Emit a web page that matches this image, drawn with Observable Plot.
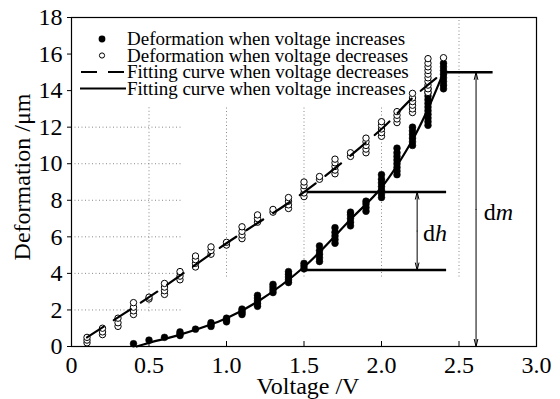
<!DOCTYPE html>
<html><head><meta charset="utf-8">
<script src="https://cdn.jsdelivr.net/npm/d3@7"></script>
<script src="https://cdn.jsdelivr.net/npm/@observablehq/plot@0.6"></script>
<style>body{margin:0;background:#fff} #chart{width:560px;height:399px}</style>
</head><body><div id="chart"></div>
<script>
// ---- data ----
const incVoltages = [0.4,0.5,0.6,0.7,0.8,0.9,1.0,1.1,1.2,1.3,1.4,1.5,1.6,1.7,1.8,1.9,2.0,2.1,2.2,2.3,2.4];
const incValues = [
  [0.15],[0.35],[0.5],[0.6,0.7,0.8],[0.95],[1.1,1.2,1.3],[1.35,1.45,1.55],
  [1.75,1.85,1.95,2.05],[2.2,2.35,2.5,2.65,2.8],[2.95,3.1,3.25,3.4],
  [3.5,3.65,3.8,3.95,4.1],[4.25,4.4,4.55],[4.65,4.85,5.05,5.25,5.5],
  [5.65,5.85,6.05,6.25,6.5],[6.6,6.8,7.0,7.2,7.35],[7.4,7.6,7.8,7.95],
  [8.15,8.35,8.55,8.75,8.95,9.15,9.4],[9.4,9.6,9.8,10.0,10.2,10.4,10.6,10.85],
  [11.0,11.2,11.4,11.6,11.8,12.0],[12.1,12.3,12.5,12.7,12.9,13.1,13.3,13.5,13.7,13.9,14.1],
  [14.1,14.3,14.5,14.7,14.9,15.1,15.3,15.5]
];
const decVoltages = [0.1,0.2,0.3,0.4,0.5,0.6,0.7,0.8,0.9,1.0,1.1,1.2,1.3,1.4,1.5,1.6,1.7,1.8,1.9,2.0,2.1,2.2,2.3,2.4];
const decValues = [
  [0.2,0.35,0.5],[0.65,0.8,1.0],[1.1,1.3,1.55],[1.75,1.95,2.15,2.4],[2.6,2.7],
  [2.85,3.05,3.25,3.45],[3.65,3.85,4.1],[4.35,4.55,4.75,4.95],[5.05,5.25,5.45],
  [5.55,5.7],[5.9,6.1,6.3,6.55],[6.8,7.0,7.2],[7.35,7.5],[7.55,7.75,7.95,8.15],
  [8.2,8.4,8.6,8.8,9.0],[9.15,9.3],[9.45,9.65,9.85,10.05,10.25],[10.4,10.6],
  [10.6,10.8,11.0,11.2,11.4],[11.5,11.7,11.9,12.1,12.3],[12.25,12.45,12.65,12.85],
  [12.8,13.0,13.2,13.4,13.6,13.85],[13.9,14.1,14.3,14.5,14.7,14.9,15.1,15.3,15.5,15.75],
  [15.8]
];
const decFitV = [0.1,0.5,1.0,1.5,2.0,2.2,2.4];
const decFitD = [0.5,2.7,5.65,8.45,11.9,13.6,15.0];
const incFitV = [0.42,0.5,0.7,1.0,1.2,1.5,1.8,2.0,2.2,2.3,2.4];
const incFitD = [0.0,0.2,0.65,1.55,2.45,4.35,6.95,8.7,11.3,13.0,15.0];

const xTicks = [0,0.5,1.0,1.5,2.0,2.5,3.0];
const yTicks = [0,2,4,6,8,10,12,14,16,18];
const xLabel = "Voltage /V";
const yLabel = "Deformation /\u03bcm";
const legendLabels = [
  "Deformation when voltage increases",
  "Deformation when voltage decreases",
  "Fitting curve when voltage decreases",
  "Fitting curve when voltage increases"
];
// annotation levels (horizontal reference lines)
const refLines = [{y:15.0, x1:2.4, x2:2.72},{y:8.45, x1:1.49, x2:2.42},{y:4.18, x1:1.49, x2:2.42}];
const dimArrows = [{x:2.23, top:8.45, bottom:4.18},{x:2.61, top:15.0, bottom:0}];
const dimLabels = [{text:"dh", x:2.345, y:6.2},{text:"dm", x:2.755, y:7.35}];
const hGridValues = [2,4,6,8,10,12];
const hGridSpan = [0, 0.72];
const vGrid = [{x:0.5,y1:1.9,y2:13.1},{x:1.0,y1:3.8,y2:13.1},{x:1.5,y1:3.8,y2:13.1},{x:2.0,y1:3.8,y2:13.1},{x:2.5,y1:3.8,y2:18}];

// ---- tables ----
const incPts = incVoltages.flatMap((v,i)=>incValues[i].map(d=>({v,d})));
const decPts = decVoltages.flatMap((v,i)=>decValues[i].map(d=>({v,d})));
const decFit = decFitV.map((v,i)=>({v,d:decFitD[i]}));
const incFit = incFitV.map((v,i)=>({v,d:incFitD[i]}));
const arrowHalves = dimArrows.flatMap(a=>{const m=(a.top+a.bottom)/2; return [{x:a.x,y1:m,y2:a.top},{x:a.x,y1:m,y2:a.bottom}];});
const fmt = d => d === 0 ? "0" : d.toFixed(1);
const font = "Liberation Serif";

const svg = Plot.plot({
  width:560, height:399, marginLeft:71, marginRight:24, marginTop:17, marginBottom:53,
  style:{fontFamily:font, fontSize:"24px", background:"#fff", color:"#000"},
  x:{domain:[0,3]}, y:{domain:[0,18]},
  marks:[
    Plot.ruleY(hGridValues,{y:d=>d, x1:hGridSpan[0], x2:hGridSpan[1], stroke:"#888", strokeDasharray:"1,2.5"}),
    Plot.ruleX(vGrid,{x:"x", y1:"y1", y2:"y2", stroke:"#888", strokeDasharray:"1,2.5"}),
    Plot.frame({stroke:"#000", strokeWidth:1.2}),
    Plot.axisY(yTicks,{tickSize:4, tickPadding:5, fontSize:24, label:null}),
    Plot.axisX(xTicks,{tickSize:-5, tickFormat:fmt, fontSize:24, label:null}),
    Plot.text([xLabel],{frameAnchor:"bottom", text:d=>d, dy:40, dx:4, fontSize:24, lineAnchor:"middle"}),
    Plot.text([yLabel],{frameAnchor:"left", text:d=>d, dx:-49, dy:-5, rotate:-90, fontSize:24, textAnchor:"middle", lineAnchor:"middle"}),
    Plot.ruleY(refLines,{y:"y", x1:"x1", x2:"x2", stroke:"#000", strokeWidth:2.5}),
    Plot.arrow(arrowHalves,{x1:"x", x2:"x", y1:"y1", y2:"y2", stroke:"#000", strokeWidth:1, headLength:11, headAngle:28}),
    Plot.dot(incPts,{x:"v", y:"d", r:3.4, fill:"#000", stroke:"#000", strokeWidth:0.5}),
    Plot.dot(decPts,{x:"v", y:"d", r:3.2, fill:"#fff", stroke:"#000", strokeWidth:1}),
    Plot.line(decFit,{x:"v", y:"d", curve:"catmull-rom", stroke:"#000", strokeWidth:2.2, strokeDasharray:"20,12"}),
    Plot.line(incFit,{x:"v", y:"d", curve:"catmull-rom", stroke:"#000", strokeWidth:2.2}),
    Plot.text(dimLabels,{x:"x", y:"y", text:"text", fontSize:24, textAnchor:"middle", lineAnchor:"middle"})
  ]
});

// italic second letter of dimension labels
d3.select(svg).selectAll("text").each(function(){
  const t = this.textContent;
  if (dimLabels.some(l=>l.text===t) && this.childElementCount===0) {
    this.textContent = t[0];
    d3.select(this).append("tspan").attr("font-style","italic").text(t.slice(1));
  }
});

// legend inside the frame, top-left
const lg = d3.select(svg).append("g").attr("font-family",font).attr("font-size",19).attr("text-anchor","start");
const rowsY = [39,55.5,72,88.5];
lg.append("circle").attr("cx",102).attr("cy",rowsY[0]).attr("r",3.4).attr("fill","#000");
lg.append("circle").attr("cx",102).attr("cy",rowsY[1]).attr("r",2.6).attr("fill","#fff").attr("stroke","#000");
lg.append("line").attr("x1",81).attr("x2",126).attr("y1",rowsY[2]).attr("y2",rowsY[2]).attr("stroke","#000").attr("stroke-width",2).attr("stroke-dasharray","16,11");
lg.append("line").attr("x1",80).attr("x2",126).attr("y1",rowsY[3]).attr("y2",rowsY[3]).attr("stroke","#000").attr("stroke-width",2);
legendLabels.forEach((s,i)=>{
  lg.append("text").attr("x",127).attr("y",rowsY[i]).attr("dy","0.32em").attr("text-anchor","start").text(s);
});

document.getElementById("chart").append(svg);
</script></body></html>
